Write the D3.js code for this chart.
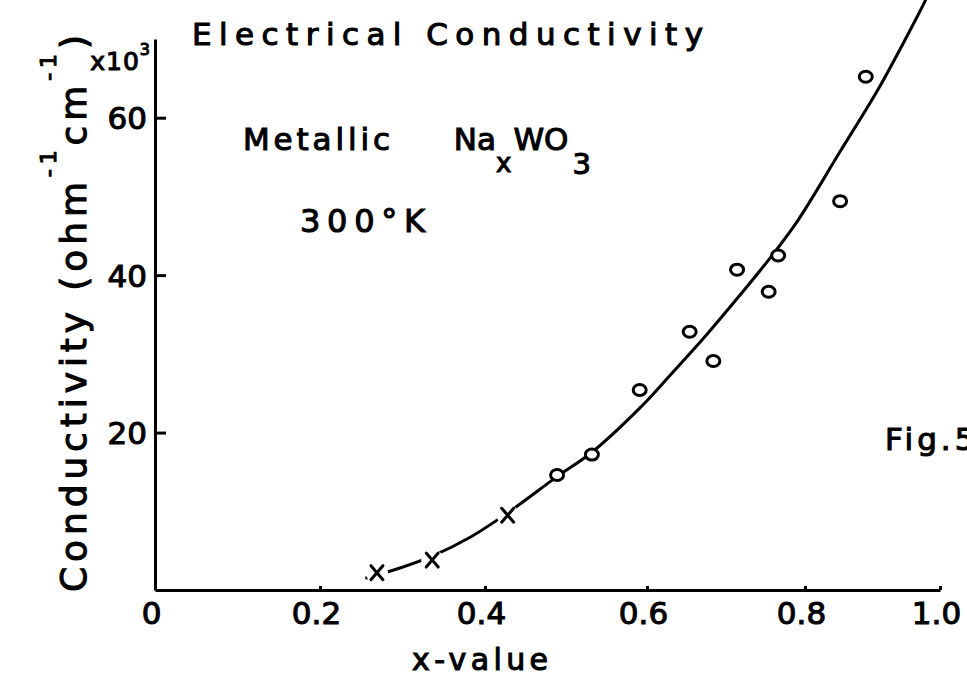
<!DOCTYPE html>
<html>
<head>
<meta charset="utf-8">
<script src="https://cdnjs.cloudflare.com/ajax/libs/d3/7.8.5/d3.min.js"></script>
<style>
  body { margin: 0; background: #fff; }
  #chart { width: 967px; height: 682px; }
</style>
</head>
<body>
<div id="chart"></div>
<script>
// x-value of NaxWO3 samples, conductivity in 10^3 ohm^-1 cm^-1
var crossX = [0.269, 0.336, 0.428];
var crossY = [2.2, 3.8, 9.5];

var circleX = [0.489, 0.532, 0.591, 0.654, 0.684, 0.714, 0.754, 0.766, 0.852, 0.890];
var circleY = [14.6, 17.2, 25.4, 32.8, 29.1, 40.7, 37.9, 42.5, 49.4, 65.2];

// hand drawn fit line
var fitX = [0.255, 0.297, 0.336, 0.382, 0.428, 0.489, 0.532, 0.591, 0.633, 0.676, 0.718, 0.756, 0.790, 0.852, 0.911, 0.966, 0.979];
var fitY = [1.5, 2.8, 4.3, 6.7, 9.8, 14.4, 17.5, 23.1, 27.7, 32.5, 37.5, 42.2, 46.8, 55.7, 64.0, 72.8, 75.0];

var xTicks = [0, 0.2, 0.4, 0.6, 0.8, 1.0];
var xTickLabels = ["0", "0.2", "0.4", "0.6", "0.8", "1.0"];
var yTicks = [20, 40, 60];
var yTickLabels = ["20", "40", "60"];

class D3ConductivityPlot {

  constructor(props) {
    this.width = props.width;
    this.height = props.height;
    this.font = "DejaVu Sans";
    this.graph = undefined;
    this.main = undefined;
  }

  create(chartElem) {
    this._draw(chartElem);
  }

  _text(x, y, str, size, len) {
    var t = this.graph.append("text")
      .attr("x", x)
      .attr("y", y)
      .attr("font-family", this.font)
      .attr("font-size", size)
      .attr("fill", "#000")
      .attr("stroke", "#000")
      .attr("stroke-width", 1.1)
      .text(str);
    if (len) t.attr("textLength", len).attr("lengthAdjust", "spacing");
    return t;
  }

  _draw(chartElem) {
    var self = this;

    this.graph = d3.select(chartElem).append("svg")
      .attr("width", this.width)
      .attr("height", this.height)
      .style("background", "#fff");

    // the paper axis is hand ruled, so ticks are not evenly spaced
    this.x = d3.scaleLinear().domain(xTicks).range([155, 320, 485, 647, 805, 940]);
    this.y = d3.scaleLinear().domain([0, 70]).range([590, 39]);

    var xAxis = d3.axisBottom(this.x)
      .tickValues(xTicks)
      .tickFormat((d, i) => xTickLabels[i])
      .tickSizeInner(-4)
      .tickSizeOuter(0)
      .tickPadding(12);

    var yAxis = d3.axisLeft(this.y)
      .tickValues(yTicks)
      .tickFormat((d, i) => yTickLabels[i])
      .tickSizeInner(-11)
      .tickSizeOuter(0)
      .tickPadding(8);

    // add the X axis
    var gx = this.graph.append("g")
      .attr("transform", "translate(0," + this.y(0) + ")")
      .call(xAxis);

    // add the Y axis
    var gy = this.graph.append("g")
      .attr("transform", "translate(" + this.x(0) + ",0)")
      .call(yAxis);

    [gx, gy].forEach(g => {
      g.attr("font-family", this.font).attr("font-size", 31);
      g.selectAll("path, line").attr("stroke", "#000").attr("stroke-width", 3);
      g.selectAll("text").attr("fill", "#000").attr("stroke", "#000").attr("stroke-width", 1.1);
    });
    gx.selectAll("text").attr("dx", -4);
    gy.selectAll("text").attr("dy", "0.36em");

    // titles and annotations
    this._text(192, 45, "Electrical Conductivity", 31, 511);
    var m = this._text(243, 150, "", 31);
    m.append("tspan").attr("textLength", 147).attr("lengthAdjust", "spacing").text("Metallic");
    m.append("tspan").attr("dx", 60).text("Na");
    m.append("tspan").attr("dy", 22).attr("font-size", 26).text("x");
    m.append("tspan").attr("dy", -22).attr("dx", 2).text("WO");
    m.append("tspan").attr("dy", 24).attr("dx", 4).attr("font-size", 29).text("3");
    this._text(300, 232, "300°K", 32, 125);
    this._text(885, 450, "Fig.5", 31).attr("letter-spacing", 4);
    this._text(412, 670, "x-value", 30, 136);

    var e = this._text(151, 70, "x10", 25).attr("text-anchor", "end").attr("letter-spacing", 1);
    e.append("tspan").attr("dy", -15).attr("font-size", 16).text("3");

    var yl = this.graph.append("text")
      .attr("transform", "translate(86,592) rotate(-90)")
      .attr("font-family", this.font)
      .attr("font-size", 36)
      .attr("fill", "#000")
      .attr("stroke", "#000")
      .attr("stroke-width", 1.1)
      .attr("textLength", 557)
      .attr("lengthAdjust", "spacing");
    yl.append("tspan").text("Conductivity (ohm");
    yl.append("tspan").attr("dy", -30).attr("font-size", 22).text("-1");
    yl.append("tspan").attr("dy", 30).text("cm");
    yl.append("tspan").attr("dy", -30).attr("font-size", 22).text("-1");
    yl.append("tspan").attr("dy", 30).text(")");

    this.main = this.graph.append("g");
    this._drawData();
  }

  _drawData() {
    var self = this;
    var fit = fitX.map((d, i) => [d, fitY[i]]);
    var crosses = crossX.map((d, i) => [d, crossY[i]]);
    var circles = circleX.map((d, i) => [d, circleY[i]]);

    // draw the fitted curve
    var line = d3.line()
      .x(d => self.x(d[0]))
      .y(d => self.y(d[1]))
      .curve(d3.curveCatmullRom);

    this.main.append("path")
      .datum(fit)
      .attr("d", line)
      .attr("fill", "none")
      .attr("stroke", "#000")
      .attr("stroke-width", 3);

    // crosses leave a gap in the curve
    var cx = this.main.selectAll(".cross")
      .data(crosses)
      .enter()
      .append("g")
      .attr("class", "cross")
      .attr("transform", d => "translate(" + self.x(d[0]) + "," + self.y(d[1]) + ")");
    cx.append("circle").attr("r", 11).attr("fill", "#fff");
    cx.append("path")
      .attr("d", "M-6,-7L6,7M-6,7L6,-7")
      .attr("stroke", "#000")
      .attr("stroke-width", 3)
      .attr("stroke-linecap", "round");

    this.main.selectAll(".circ")
      .data(circles)
      .enter()
      .append("ellipse")
      .attr("class", "circ")
      .attr("cx", d => self.x(d[0]))
      .attr("cy", d => self.y(d[1]))
      .attr("rx", 6.5)
      .attr("ry", 5.5)
      .attr("fill", "#fff")
      .attr("stroke", "#000")
      .attr("stroke-width", 3);
  }
}

var plot = new D3ConductivityPlot({ width: 967, height: 682 });
plot.create(document.getElementById("chart"));
</script>
</body>
</html>
